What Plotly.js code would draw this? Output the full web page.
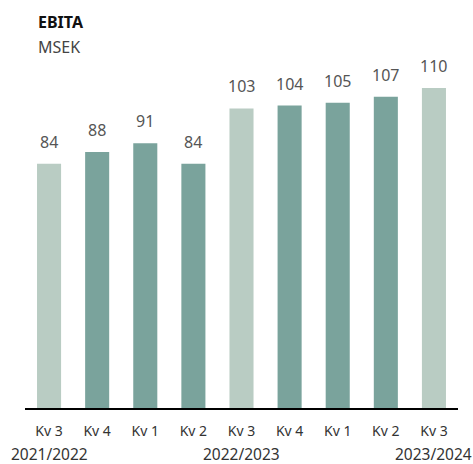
<!DOCTYPE html>
<html><head><meta charset="utf-8">
<script src="https://cdn.plot.ly/plotly-3.0.1.min.js"></script>
<style>html,body{margin:0;padding:0;background:#fff}</style>
</head><body><div id="chart" style="width:473px;height:464px"></div>
<script>
const quarters = ["Kv 3","Kv 4","Kv 1","Kv 2","Kv 3","Kv 4","Kv 1","Kv 2","Kv 3"];
const values = [84, 88, 91, 84, 103, 104, 105, 107, 110];
const yearLabels = ["2021/2022", "2022/2023", "2023/2024"];
const yearAt = [0, 4, 8];
const lightColor = "#b9ccc3";
const darkColor = "#7aa39c";
const colors = quarters.map(q => q === "Kv 3" ? lightColor : darkColor);
const idx = quarters.map((q,i)=>i);

const trace = {
  type: "bar",
  x: idx,
  y: values,
  marker: {color: colors},
  width: 0.5,
  hoverinfo: "none"
};

const annotations = [
  {text: "<b>EBITA</b>", xref: "paper", yref: "paper", x: 0, y: 1, xanchor: "left", yanchor: "top", showarrow: false,
   font: {family: "Noto Sans", size: 16, color: "#111"}, xshift: 11, yshift: 50},
  {text: "MSEK", xref: "paper", yref: "paper", x: 0, y: 1, xanchor: "left", yanchor: "top", showarrow: false,
   font: {family: "Noto Sans", size: 16, color: "#444"}, xshift: 11, yshift: 25}
];
values.forEach((v,i)=>{
  annotations.push({text: String(v), xref: "x", yref: "y", x: idx[i], y: v, xanchor: "center", yanchor: "bottom",
    showarrow: false, yshift: 9, font: {family: "Noto Sans", size: 16, color: "#555"}});
});
yearLabels.forEach((t,i)=>{
  annotations.push({text: t, xref: "x", yref: "paper", x: yearAt[i], y: 0, yanchor: "top", xanchor: "center",
    showarrow: false, yshift: -33, font: {family: "Noto Sans", size: 15.5, color: "#333"}});
});

const layout = {
  width: 473, height: 464,
  margin: {l: 25, r: 15, t: 58.5, b: 56, pad: 0},
  paper_bgcolor: "#fff", plot_bgcolor: "#fff",
  showlegend: false,
  xaxis: {
    range: [-0.5, 8.5], tickvals: idx, ticktext: quarters,
    showline: true, linecolor: "#000", linewidth: 2, showgrid: false, zeroline: false,
    ticks: "", ticklabelstandoff: 9, tickfont: {family: "Noto Sans", size: 14, color: "#333"}, fixedrange: true
  },
  yaxis: {range: [0, 120], visible: false, showgrid: false, zeroline: false, fixedrange: true},
  annotations: annotations,
  font: {family: "Noto Sans"}
};
Plotly.newPlot("chart", [trace], layout, {staticPlot: true, displayModeBar: false});
</script></body></html>
